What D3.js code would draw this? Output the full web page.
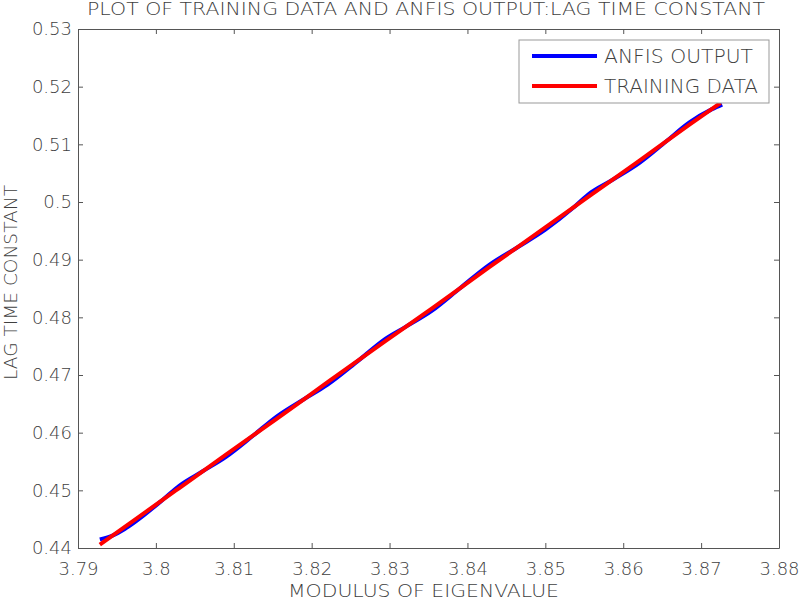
<!DOCTYPE html>
<html>
<head>
<meta charset="utf-8">
<script src="https://cdn.jsdelivr.net/npm/d3@7/dist/d3.min.js"></script>
<style>
  body { margin: 0; background: #fff; }
  svg text { font-family: "DejaVu Sans", "Noto Sans", sans-serif; font-weight: 200; fill: #404040; }
</style>
</head>
<body>
<div id="chart"></div>
<script>
// data
var anfisX = [3.7928, 3.7945, 3.7960, 3.7975, 3.8010, 3.8030, 3.8060, 3.8090, 3.8125, 3.8155,
              3.8190, 3.8220, 3.8260, 3.8295, 3.8320, 3.8355, 3.8390, 3.8428, 3.8465, 3.8500,
              3.8535, 3.8555, 3.8587, 3.8620, 3.8655, 3.8685, 3.8714, 3.8727];
var anfisY = [0.4415, 0.4422, 0.4433, 0.4447, 0.4485, 0.4508, 0.4533, 0.4558, 0.4595, 0.4628,
              0.4658, 0.4683, 0.4725, 0.4763, 0.4783, 0.4812, 0.4850, 0.4891, 0.4922, 0.4952,
              0.4989, 0.5013, 0.5039, 0.5067, 0.5105, 0.5138, 0.5161, 0.5169];
var trainX = [3.7928, 3.7975, 3.8030, 3.8090, 3.8155, 3.8220, 3.8295, 3.8355, 3.8428, 3.8500,
              3.8555, 3.8620, 3.8685, 3.8725];
var trainY = [0.4406, 0.4451, 0.4504, 0.4562, 0.4624, 0.4687, 0.4759, 0.4816, 0.4887, 0.4956,
              0.5009, 0.5071, 0.5134, 0.5172];
var xTicks = [3.79, 3.80, 3.81, 3.82, 3.83, 3.84, 3.85, 3.86, 3.87, 3.88];
var yTicks = [0.44, 0.45, 0.46, 0.47, 0.48, 0.49, 0.50, 0.51, 0.52, 0.53];
var seriesNames = ["ANFIS OUTPUT", "TRAINING DATA"];
var seriesColors = ["#0000ff", "#ff0000"];

var W = 800, H = 600;
var margin = {top: 29, right: 21, bottom: 52, left: 78},
    width = W - margin.left - margin.right,
    height = H - margin.top - margin.bottom;

var svg = d3.select("#chart").append("svg")
    .attr("width", W).attr("height", H);

var g = svg.append("g")
    .attr("transform", "translate(" + margin.left + "," + margin.top + ")");

var x = d3.scaleLinear().domain([3.79, 3.88]).range([0, width]);
var y = d3.scaleLinear().domain([0.44, 0.53]).range([height, 0]);

var axisColor = "#555";
var fmt = function(d) { return String(+d.toFixed(4)); };

// bottom / left axes with labels, ticks pointing inward
var xAxis = g.append("g").attr("transform", "translate(0," + height + ")")
    .call(d3.axisBottom(x).tickValues(xTicks).tickFormat(fmt).tickSizeInner(-5).tickSizeOuter(0));
var yAxis = g.append("g")
    .call(d3.axisLeft(y).tickValues(yTicks).tickFormat(fmt).tickSizeInner(-5).tickSizeOuter(0).tickPadding(6));
// top / right mirror ticks
var xTop = g.append("g")
    .call(d3.axisTop(x).tickValues(xTicks).tickFormat("").tickSizeInner(-5).tickSizeOuter(0));
var yRight = g.append("g").attr("transform", "translate(" + width + ",0)")
    .call(d3.axisRight(y).tickValues(yTicks).tickFormat("").tickSizeInner(-5).tickSizeOuter(0));

[xAxis, yAxis, xTop, yRight].forEach(function(a) {
  a.selectAll("path, line").attr("stroke", axisColor);
  a.selectAll("text").style("font-size", "18px").attr("fill", "#404040");
});
xAxis.selectAll("text").attr("y", 27).attr("dy", 0);

// lines
var line = d3.line()
    .x(function(d) { return x(d[0]); })
    .y(function(d) { return y(d[1]); })
    .curve(d3.curveMonotoneX);

var anfis = d3.zip(anfisX, anfisY);
var train = d3.zip(trainX, trainY);

g.append("path").datum(anfis)
    .attr("fill", "none").attr("stroke", seriesColors[0])
    .attr("stroke-width", 4).attr("d", line);
g.append("path").datum(train)
    .attr("fill", "none").attr("stroke", seriesColors[1])
    .attr("stroke-width", 4).attr("d", line);

// title and axis labels
svg.append("text")
    .attr("x", 87).attr("y", 15)
    .attr("textLength", 678).attr("lengthAdjust", "spacingAndGlyphs")
    .style("font-size", "17px")
    .text("PLOT OF TRAINING DATA AND ANFIS OUTPUT:LAG TIME CONSTANT");

svg.append("text")
    .attr("x", 288).attr("y", 597)
    .attr("textLength", 271).attr("lengthAdjust", "spacingAndGlyphs")
    .style("font-size", "18px")
    .text("MODULUS OF EIGENVALUE");

svg.append("text")
    .attr("transform", "translate(17,380) rotate(-90)")
    .attr("textLength", 195).attr("lengthAdjust", "spacingAndGlyphs")
    .style("font-size", "18px")
    .text("LAG TIME CONSTANT");

// legend
var legend = svg.append("g");
legend.append("rect")
    .attr("x", 519).attr("y", 40).attr("width", 250).attr("height", 63)
    .attr("fill", "#fff").attr("stroke", "#999");
var legendLen = [149, 154];
seriesNames.forEach(function(name, i) {
  var ly = 56 + i * 30;
  legend.append("line")
      .attr("x1", 532).attr("x2", 597).attr("y1", ly).attr("y2", ly)
      .attr("stroke", seriesColors[i]).attr("stroke-width", 4);
  legend.append("text")
      .attr("x", 604).attr("y", ly + 7)
      .attr("textLength", legendLen[i]).attr("lengthAdjust", "spacingAndGlyphs")
      .style("font-size", "19px")
      .text(name);
});
</script>
</body>
</html>
